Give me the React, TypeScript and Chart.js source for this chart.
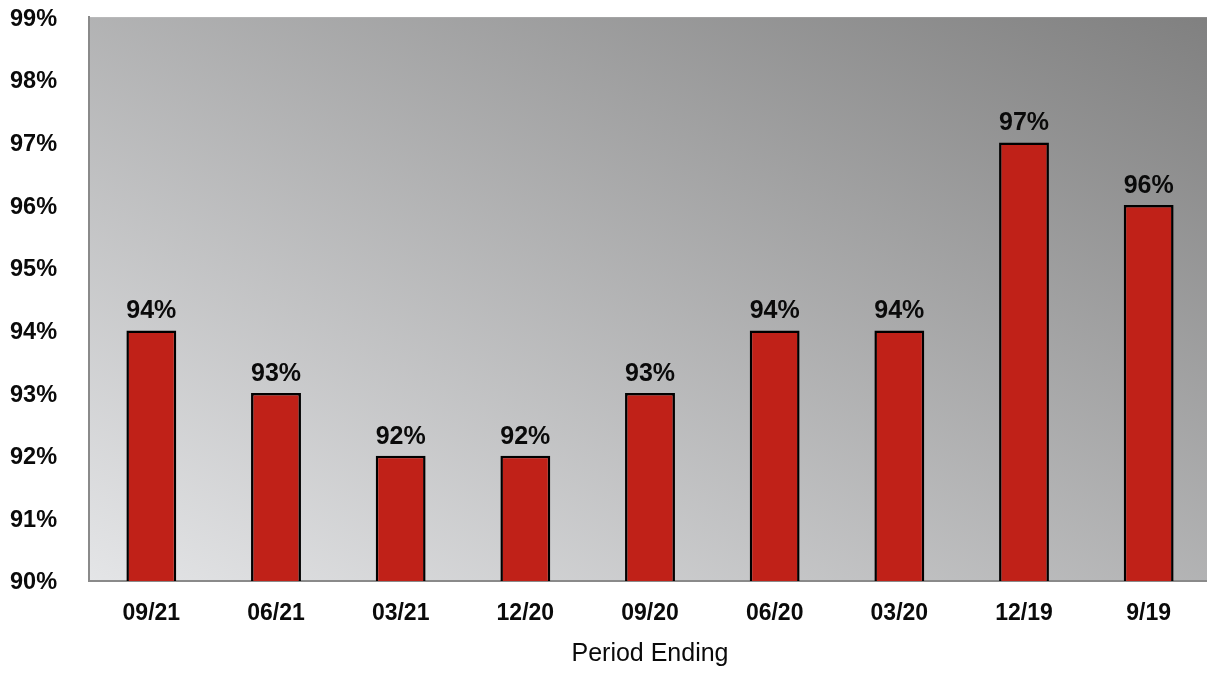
import React, { useEffect, useRef } from "react";
import { Chart, registerables } from "chart.js";

Chart.register(...registerables);

const categories = ["09/21", "06/21", "03/21", "12/20", "09/20", "06/20", "03/20", "12/19", "9/19"];
const values = [94, 93, 92, 92, 93, 94, 94, 97, 96];
const yMin = 90;
const yMax = 99;
const xTitle = "Period Ending";

const FONT = "'Liberation Sans', Arial, Helvetica, sans-serif";

const bgPlugin = {
  id: "bgGradient",
  beforeDraw(chart: any) {
    const { ctx, chartArea } = chart;
    if (!chartArea) return;
    const { left, right, top, bottom } = chartArea;
    const w = right - left;
    const h = bottom - top;
    const cx = left + w / 2;
    const cy = top + h / 2;
    const L = Math.sqrt(w * w + h * h);
    const ux = h / L;
    const uy = -w / L;
    const d = (w * h) / L;
    const g = ctx.createLinearGradient(cx - ux * d, cy - uy * d, cx + ux * d, cy + uy * d);
    g.addColorStop(0, "#e4e5e7");
    g.addColorStop(1, "#808080");
    ctx.save();
    ctx.fillStyle = g;
    ctx.fillRect(left, top, w, h);
    ctx.restore();
  },
};

const labelPlugin = {
  id: "valueLabels",
  afterDatasetsDraw(chart: any) {
    const { ctx } = chart;
    const meta = chart.getDatasetMeta(0);
    ctx.save();
    ctx.font = `bold 25px ${FONT}`;
    ctx.fillStyle = "#0a0a0a";
    ctx.textAlign = "center";
    ctx.textBaseline = "alphabetic";
    meta.data.forEach((bar: any, i: number) => {
      ctx.fillText(`${values[i]}%`, bar.x, bar.y - 12);
    });
    ctx.restore();
  },
};

export default function App() {
  const ref = useRef<HTMLCanvasElement | null>(null);
  useEffect(() => {
    document.body.style.margin = "0";
    const chart = new Chart(ref.current as HTMLCanvasElement, {
      type: "bar",
      data: {
        labels: categories,
        datasets: [
          {
            data: values,
            backgroundColor: "#c02118",
            borderColor: "#000",
            borderWidth: 2.5,
            barPercentage: 0.4,
            categoryPercentage: 1,
          },
        ],
      },
      options: {
        animation: false,
        responsive: true,
        maintainAspectRatio: false,
        layout: { padding: { left: 10, top: 15, right: 0, bottom: 0 } },
        plugins: { legend: { display: false }, tooltip: { enabled: false } },
        scales: {
          x: {
            grid: { display: false, drawTicks: false },
            border: { display: true, color: "#8a8a8a", width: 2 },
            ticks: { color: "#0a0a0a", font: { family: FONT, size: 23, weight: "bold" }, padding: 19, maxRotation: 0 },
            title: { display: true, text: xTitle, color: "#0a0a0a", font: { family: FONT, size: 25 }, padding: { top: 0, bottom: 4 } },
            afterFit(scale: any) {
              scale.height = 92;
            },
          },
          y: {
            min: yMin,
            max: yMax,
            grid: { display: false, drawTicks: false },
            border: { display: true, color: "#8a8a8a", width: 2 },
            ticks: {
              stepSize: 1,
              crossAlign: "far",
              labelOffset: 2,
              color: "#0a0a0a",
              font: { family: FONT, size: 23.5, weight: "bold" },
              callback: (v: any) => `${v}%`,
            },
            afterFit(scale: any) {
              scale.width = 79;
            },
          },
        },
      },
      plugins: [bgPlugin, labelPlugin],
    } as any);
    return () => chart.destroy();
  }, []);
  return (
    <div style={{ position: "fixed", left: 0, top: 0, width: 1207, height: 673, overflow: "hidden", background: "#fff" }}>
      <div style={{ width: 1211, height: 673 }}>
        <canvas ref={ref} />
      </div>
    </div>
  );
}
